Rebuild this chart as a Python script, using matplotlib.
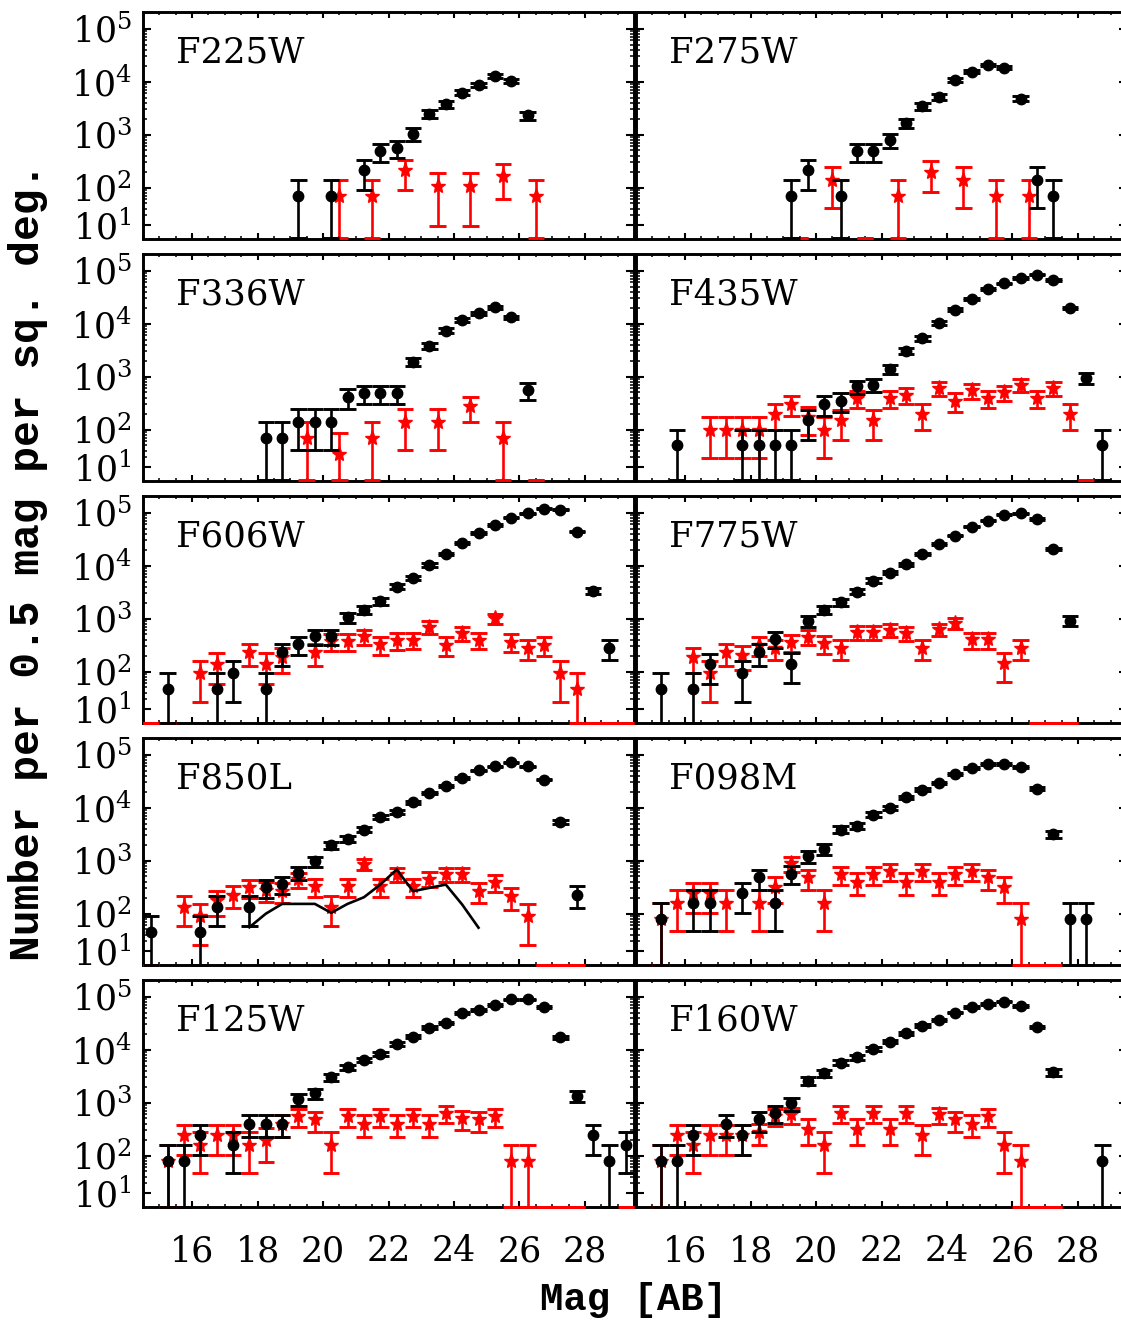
import numpy as np
import matplotlib
matplotlib.use("Agg")
import matplotlib.pyplot as plt
from matplotlib.ticker import (FixedLocator, MultipleLocator, LogLocator,
                               NullFormatter, FixedFormatter)

# ---------------- data (number per 0.5 mag per sq. deg.) ----------------
filters = ["F225W", "F275W", "F336W", "F435W", "F606W",
           "F775W", "F850L", "F098M", "F125W", "F160W"]

# F225W
f225w_bk_mag = [19.25, 20.25, 21.25, 21.75, 22.25, 22.75, 23.25, 23.75, 24.25, 24.75, 25.25, 25.75, 26.25]
f225w_bk_n = [70, 70, 210, 490, 560, 1040, 2490, 3740, 6210, 8550, 12700, 10300, 2310]
f225w_bk_e = [70, 70, 121, 185, 198, 270, 417, 512, 660, 774, 942, 850, 402]
f225w_rd_mag = [20.5, 21.5, 22.5, 23.5, 24.5, 25.5, 26.5]
f225w_rd_n = [70, 70, 210, 105, 105, 168, 70]
f225w_rd_e = [70, 70, 121, 86, 86, 108, 70]

# F275W
f275w_bk_mag = [19.25, 19.75, 20.75, 21.25, 21.75, 22.25, 22.75, 23.25, 23.75, 24.25, 24.75, 25.25, 25.75, 26.25, 26.75, 27.25]
f275w_bk_n = [70, 210, 70, 480, 480, 800, 1660, 3430, 5140, 10900, 15300, 20500, 18200, 4790, 140, 70]
f275w_bk_e = [70, 121, 70, 183, 183, 237, 340, 490, 600, 875, 1035, 1197, 1129, 579, 99, 70]
f275w_rd_mag = [19.5, 20.5, 21.5, 22.5, 23.5, 24.5, 25.5, 26.5]
f275w_rd_n = [0, 140, 0, 70, 200, 140, 70, 70]
f275w_rd_e = [0, 99, 0, 70, 116, 99, 70, 70]

# F336W
f336w_bk_mag = [18.25, 18.75, 19.25, 19.75, 20.25, 20.75, 21.25, 21.75, 22.25, 22.75, 23.25, 23.75, 24.25, 24.75, 25.25, 25.75, 26.25]
f336w_bk_n = [70, 70, 140, 140, 140, 420, 490, 490, 490, 1920, 3850, 7380, 11700, 15800, 20300, 13200, 560]
f336w_bk_e = [70, 70, 99, 99, 99, 171, 185, 185, 185, 367, 519, 719, 906, 1053, 1192, 960, 198]
f336w_rd_mag = [19.5, 20.5, 21.5, 22.5, 23.5, 24.5, 25.5, 26.5]
f336w_rd_n = [70, 35, 70, 140, 140, 280, 70, 0]
f336w_rd_e = [70, 50, 70, 99, 99, 140, 70, 0]

# F435W
f435w_bk_mag = [15.75, 17.75, 18.25, 18.75, 19.25, 19.75, 20.25, 20.75, 21.25, 21.75, 22.25, 22.75, 23.25, 23.75, 24.25, 24.75, 25.25, 25.75, 26.25, 26.75, 27.25, 27.75, 28.25, 28.75]
f435w_bk_n = [50, 50, 50, 50, 50, 150, 300, 350, 650, 700, 1400, 3100, 5300, 10300, 18400, 29300, 45200, 57700, 72800, 84100, 66700, 19800, 930, 50]
f435w_bk_e = [50, 50, 50, 50, 50, 87, 122, 132, 180, 187, 264, 394, 515, 718, 959, 1209, 1503, 1699, 1908, 2050, 1826, 995, 216, 50]
f435w_rd_mag = [16.75, 17.25, 17.75, 18.25, 18.75, 19.25, 19.75, 20.25, 20.75, 21.25, 21.75, 22.25, 22.75, 23.25, 23.75, 24.25, 24.75, 25.25, 25.75, 26.25, 26.75, 27.25, 27.75, 28.25]
f435w_rd_n = [100, 100, 100, 100, 200, 300, 170, 100, 150, 400, 150, 400, 450, 200, 600, 350, 550, 400, 500, 700, 400, 600, 200, 0]
f435w_rd_e = [71, 71, 71, 71, 100, 122, 92, 71, 87, 141, 87, 141, 150, 100, 173, 132, 166, 141, 158, 187, 141, 173, 100, 0]

# F606W
f606w_bk_mag = [15.25, 16.75, 17.25, 18.25, 18.75, 19.25, 19.75, 20.25, 20.75, 21.25, 21.75, 22.25, 22.75, 23.25, 23.75, 24.25, 24.75, 25.25, 25.75, 26.25, 26.75, 27.25, 27.75, 28.25, 28.75]
f606w_bk_n = [46, 46, 93, 46, 233, 327, 467, 467, 1060, 1460, 2160, 4020, 5940, 10300, 16600, 26400, 40800, 58600, 80600, 97300, 117500, 112500, 43800, 3330, 280]
f606w_bk_e = [46, 46, 66, 46, 104, 123, 148, 148, 223, 262, 318, 434, 528, 696, 883, 1114, 1385, 1660, 1947, 2139, 2350, 2300, 1435, 396, 114]
f606w_rd_mag = [14.75, 15.25, 16.25, 16.75, 17.75, 18.25, 18.75, 19.75, 20.25, 20.75, 21.25, 21.75, 22.25, 22.75, 23.25, 23.75, 24.25, 24.75, 25.25, 25.75, 26.25, 26.75, 27.25, 27.75, 28.25, 28.75, 29.25]
f606w_rd_n = [0, 0, 93, 140, 233, 140, 187, 233, 373, 373, 467, 327, 396, 400, 700, 318, 545, 400, 1016, 368, 280, 318, 93, 46, 0, 0, 0]
f606w_rd_e = [0, 0, 66, 81, 104, 81, 94, 104, 132, 132, 148, 124, 137, 137, 181, 122, 160, 137, 218, 132, 114, 122, 66, 46, 0, 0, 0]

# F775W
f775w_bk_mag = [15.25, 16.25, 16.75, 17.75, 18.25, 18.75, 19.25, 19.75, 20.25, 20.75, 21.25, 21.75, 22.25, 22.75, 23.25, 23.75, 24.25, 24.75, 25.25, 25.75, 26.25, 26.75, 27.25, 27.75]
f775w_bk_n = [46, 46, 138, 92, 230, 414, 140, 904, 1460, 2030, 3240, 5220, 7380, 10600, 16600, 25600, 36800, 54400, 70600, 90400, 97200, 76000, 20700, 916]
f775w_bk_e = [46, 46, 80, 65, 103, 138, 80, 204, 259, 306, 386, 490, 583, 698, 874, 1085, 1301, 1582, 1802, 2039, 2115, 1870, 975, 205]
f775w_rd_mag = [16.25, 16.75, 17.25, 17.75, 18.25, 18.75, 19.25, 19.75, 20.25, 20.75, 21.25, 21.75, 22.25, 22.75, 23.25, 23.75, 24.25, 24.75, 25.25, 25.75, 26.25, 26.75, 27.25, 27.75]
f775w_rd_n = [184, 92, 230, 206, 322, 275, 368, 458, 343, 275, 550, 550, 611, 529, 275, 630, 817, 408, 408, 144, 275, 0, 0, 0]
f775w_rd_e = [92, 65, 103, 98, 122, 112, 130, 145, 126, 112, 159, 159, 168, 156, 112, 170, 194, 137, 137, 81, 112, 0, 0, 0]

# F850L
f850l_bk_mag = [14.75, 16.25, 16.75, 17.75, 18.25, 18.75, 19.25, 19.75, 20.25, 20.75, 21.25, 21.75, 22.25, 22.75, 23.25, 23.75, 24.25, 24.75, 25.25, 25.75, 26.25, 26.75, 27.25, 27.75]
f850l_bk_n = [45, 45, 135, 135, 315, 360, 585, 973, 1950, 2600, 3850, 6670, 8280, 12600, 18900, 26000, 36300, 50700, 60300, 71800, 60300, 33800, 5370, 225]
f850l_bk_e = [45, 45, 78, 78, 119, 127, 162, 209, 296, 342, 416, 548, 610, 753, 922, 1082, 1278, 1510, 1647, 1797, 1647, 1233, 491, 100]
f850l_rd_mag = [14.75, 15.75, 16.25, 16.75, 17.25, 17.75, 18.25, 18.75, 19.25, 19.75, 20.25, 20.75, 21.25, 21.75, 22.25, 22.75, 23.25, 23.75, 24.25, 24.75, 25.25, 25.75, 26.25, 26.75, 27.25, 27.75]
f850l_rd_n = [0, 135, 90, 180, 225, 315, 280, 270, 450, 328, 135, 330, 855, 330, 561, 330, 458, 561, 561, 264, 391, 212, 90, 0, 0, 0]
f850l_rd_e = [0, 78, 64, 90, 100, 119, 112, 110, 142, 122, 78, 122, 196, 122, 159, 122, 144, 159, 159, 109, 132, 97, 64, 0, 0, 0]
f850l_line_mag = [17.75, 18.25, 18.75, 19.25, 19.75, 20.25, 20.75, 21.25, 21.75, 22.25, 22.75, 23.25, 23.75, 24.25, 24.75]
f850l_line_n = [55, 99, 152, 152, 152, 103, 152, 203, 352, 676, 264, 305, 352, 148, 54]

# F098M
f098m_bk_mag = [15.25, 16.25, 16.75, 17.75, 18.25, 18.75, 19.25, 19.75, 20.25, 20.75, 21.25, 21.75, 22.25, 22.75, 23.25, 23.75, 24.25, 24.75, 25.25, 25.75, 26.25, 26.75, 27.25, 27.75, 28.25]
f098m_bk_n = [80, 160, 160, 240, 480, 160, 567, 1210, 1660, 3850, 4580, 7380, 9860, 15700, 21900, 29300, 43300, 56100, 66700, 66700, 57700, 22900, 3180, 80, 80]
f098m_bk_e = [80, 113, 113, 139, 196, 113, 212, 310, 362, 552, 602, 764, 883, 1113, 1315, 1520, 1849, 2106, 2300, 2300, 2136, 1345, 502, 80, 80]
f098m_rd_mag = [15.25, 15.75, 16.25, 16.75, 17.25, 18.25, 18.75, 19.25, 19.75, 20.25, 20.75, 21.25, 21.75, 22.25, 22.75, 23.25, 23.75, 24.25, 24.75, 25.25, 25.75, 26.25, 26.75, 27.25]
f098m_rd_n = [80, 160, 240, 240, 160, 160, 320, 880, 480, 160, 560, 400, 560, 630, 400, 630, 400, 560, 630, 480, 320, 80, 0, 0]
f098m_rd_e = [80, 113, 139, 139, 113, 113, 160, 263, 196, 113, 212, 178, 212, 222, 178, 222, 178, 212, 222, 196, 160, 80, 0, 0]

# F125W
f125w_bk_mag = [15.25, 15.75, 16.25, 17.25, 17.75, 18.25, 18.75, 19.25, 19.75, 20.25, 20.75, 21.25, 21.75, 22.25, 22.75, 23.25, 23.75, 24.25, 24.75, 25.25, 25.75, 26.25, 26.75, 27.25, 27.75, 28.25, 28.75, 29.25]
f125w_bk_n = [80, 80, 240, 160, 400, 400, 400, 1160, 1500, 3010, 4650, 6380, 8280, 12800, 17600, 26000, 32400, 48500, 56100, 69700, 89100, 89100, 63000, 17100, 1340, 240, 80, 160]
f125w_bk_e = [80, 80, 139, 113, 179, 179, 179, 285, 324, 459, 570, 668, 761, 946, 1110, 1349, 1505, 1843, 1982, 2209, 2497, 2497, 2100, 1094, 306, 139, 80, 113]
f125w_rd_mag = [15.25, 15.75, 16.25, 16.75, 17.25, 17.75, 18.25, 18.75, 19.25, 19.75, 20.25, 20.75, 21.25, 21.75, 22.25, 22.75, 23.25, 23.75, 24.25, 24.75, 25.25, 25.75, 26.25, 26.75, 27.25, 27.75, 29.25]
f125w_rd_n = [80, 240, 160, 240, 240, 160, 200, 400, 560, 480, 160, 560, 400, 560, 400, 560, 400, 640, 500, 480, 560, 80, 80, 0, 0, 0, 0]
f125w_rd_e = [80, 139, 113, 139, 139, 113, 125, 179, 212, 196, 113, 212, 179, 212, 179, 212, 179, 224, 198, 196, 212, 80, 80, 0, 0, 0, 0]

# F160W
f160w_bk_mag = [15.25, 15.75, 16.25, 17.25, 17.75, 18.25, 18.75, 19.25, 19.75, 20.25, 20.75, 21.25, 21.75, 22.25, 22.75, 23.25, 23.75, 24.25, 24.75, 25.25, 25.75, 26.25, 26.75, 27.25, 28.75]
f160w_bk_n = [80, 80, 240, 400, 240, 480, 640, 960, 2560, 3580, 5690, 7170, 10300, 14200, 20300, 28400, 36300, 49900, 63000, 72800, 80600, 66700, 26400, 3740, 80]
f160w_bk_e = [80, 80, 139, 179, 139, 196, 224, 260, 424, 500, 631, 708, 849, 996, 1192, 1410, 1594, 1868, 2100, 2257, 2375, 2160, 1360, 512, 80]
f160w_rd_mag = [15.25, 15.75, 16.25, 16.75, 17.25, 17.75, 18.25, 18.75, 19.25, 19.75, 20.25, 20.75, 21.25, 21.75, 22.25, 22.75, 23.25, 23.75, 24.25, 24.75, 25.25, 25.75, 26.25, 26.75, 27.25]
f160w_rd_n = [80, 240, 160, 240, 240, 240, 276, 560, 600, 320, 160, 640, 320, 640, 320, 640, 240, 600, 480, 400, 560, 160, 80, 0, 0]
f160w_rd_e = [80, 139, 113, 139, 139, 139, 115, 198, 205, 160, 113, 224, 160, 224, 160, 224, 139, 205, 196, 179, 212, 113, 80, 0, 0]

ytick_vals = [20, 1e2, 1e3, 1e4, 1e5]
ytick_labels = [r"$10^1$", r"$10^2$", r"$10^3$", r"$10^4$", r"$10^5$"]
xlabel = "Mag [AB]"
ylabel = "Number per 0.5 mag per sq. deg."

series = {
    "F225W": (f225w_bk_mag, f225w_bk_n, f225w_bk_e, f225w_rd_mag, f225w_rd_n, f225w_rd_e),
    "F275W": (f275w_bk_mag, f275w_bk_n, f275w_bk_e, f275w_rd_mag, f275w_rd_n, f275w_rd_e),
    "F336W": (f336w_bk_mag, f336w_bk_n, f336w_bk_e, f336w_rd_mag, f336w_rd_n, f336w_rd_e),
    "F435W": (f435w_bk_mag, f435w_bk_n, f435w_bk_e, f435w_rd_mag, f435w_rd_n, f435w_rd_e),
    "F606W": (f606w_bk_mag, f606w_bk_n, f606w_bk_e, f606w_rd_mag, f606w_rd_n, f606w_rd_e),
    "F775W": (f775w_bk_mag, f775w_bk_n, f775w_bk_e, f775w_rd_mag, f775w_rd_n, f775w_rd_e),
    "F850L": (f850l_bk_mag, f850l_bk_n, f850l_bk_e, f850l_rd_mag, f850l_rd_n, f850l_rd_e),
    "F098M": (f098m_bk_mag, f098m_bk_n, f098m_bk_e, f098m_rd_mag, f098m_rd_n, f098m_rd_e),
    "F125W": (f125w_bk_mag, f125w_bk_n, f125w_bk_e, f125w_rd_mag, f125w_rd_n, f125w_rd_e),
    "F160W": (f160w_bk_mag, f160w_bk_n, f160w_bk_e, f160w_rd_mag, f160w_rd_n, f160w_rd_e),
}

# ---------------- style ----------------
plt.rcParams["font.family"] = ["DejaVu Serif"]
plt.rcParams["mathtext.fontset"] = "dejavuserif"

W, H = 1121, 1323
fig = plt.figure(figsize=(W / 100, H / 100), dpi=100)

YMIN, YMAX = 10.9, 2.06e5
XMIN, XMAX = 14.5, 29.5
RED = "#ff0000"

col_left = [143, 636]
col_w = 491
row_bottom = [238.5, 480.5, 722.5, 964.5, 1206.5]
row_h = 226.5


def draw(ax, mag, n, err, color, marker, ms, z):
    mag = np.asarray(mag, float)
    n = np.asarray(n, float)
    err = np.asarray(err, float)
    lo = np.clip(n - err, YMIN, None)
    hi = np.clip(n + err, YMIN, None)
    ax.vlines(mag, lo, hi, colors=color, lw=1.9, zorder=z)
    ax.hlines(hi, mag - 0.25, mag + 0.25, colors=color, lw=2.1, zorder=z, clip_on=False)
    ax.hlines(lo, mag - 0.25, mag + 0.25, colors=color, lw=2.1, zorder=z, clip_on=False)
    m = n > 0
    ax.plot(mag[m], n[m], ls="none", marker=marker, ms=ms, color=color,
            mec=color, zorder=z + 0.5)


for i, name in enumerate(filters):
    r, c = divmod(i, 2)
    left = col_left[c] / W
    bottom = 1 - row_bottom[r] / H
    ax = fig.add_axes([left, bottom, col_w / W, row_h / H])
    ax.set_yscale("log")
    ax.set_xlim(XMIN, XMAX)
    ax.set_ylim(YMIN, YMAX)

    bm, bn, be, rm, rn, re_ = series[name]
    draw(ax, rm, rn, re_, RED, "*", 11, 3)
    draw(ax, bm, bn, be, "black", "o", 7.5, 4)
    if name == "F850L":
        ax.plot(f850l_line_mag, f850l_line_n, color="black", lw=1.9, zorder=5)

    ax.text(0.068, 0.823, name, transform=ax.transAxes, fontsize=25.5,
            ha="left", va="center")

    ax.yaxis.set_major_locator(FixedLocator(ytick_vals))
    ax.yaxis.set_minor_locator(LogLocator(base=10, subs=np.arange(2, 10), numticks=20))
    ax.yaxis.set_minor_formatter(NullFormatter())
    if c == 0:
        ax.yaxis.set_major_formatter(FixedFormatter(ytick_labels))
    else:
        ax.yaxis.set_major_formatter(NullFormatter())

    ax.xaxis.set_major_locator(MultipleLocator(2))
    ax.xaxis.set_minor_locator(MultipleLocator(0.5))
    if r < 4:
        ax.xaxis.set_major_formatter(NullFormatter())

    ax.tick_params(axis="both", which="both", direction="in", top=True, right=True)
    ax.tick_params(axis="y", which="major", length=5.8, width=1.5, labelsize=25, pad=8)
    ax.tick_params(axis="y", which="minor", length=3.0, width=1.1)
    ax.tick_params(axis="x", which="major", length=4.5, width=1.5, labelsize=25, pad=20)
    ax.tick_params(axis="x", which="minor", length=2.2, width=1.1)
    for sp in ax.spines.values():
        sp.set_linewidth(2.1)

fig.text(28 / W, 1 - 562 / H, ylabel, rotation=90, ha="center", va="center",
         family="Liberation Mono", weight="bold", fontsize=31)
fig.text(633 / W, 1 - 1300 / H, xlabel, ha="center", va="center",
         family="Liberation Mono", weight="bold", fontsize=28)

fig.savefig("out.png", dpi=100)
